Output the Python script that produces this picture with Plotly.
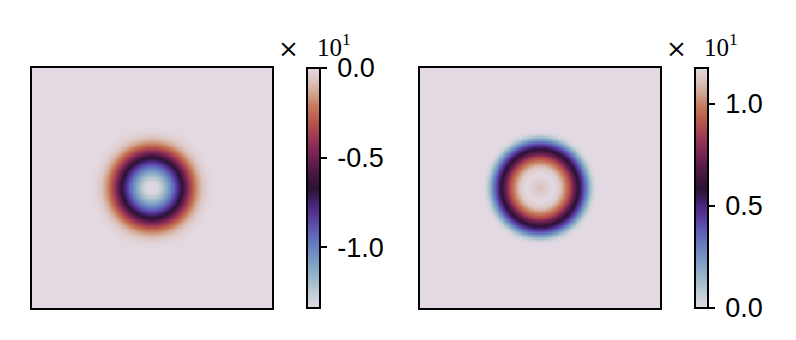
import numpy as np
import plotly.graph_objects as go

# radial profiles (radius in axis units, axis spans -5..5)
left_r = [0.0, 0.25, 0.417, 0.625, 0.833, 1.042, 1.25, 1.417, 1.583, 1.75, 1.917, 2.083, 2.25, 2.417, 2.667, 5.0, 8.0]
left_v = [-13.4, -13.1, -12.4, -11.2, -9.8, -8.2, -6.7, -5.2, -3.8, -2.5, -1.5, -0.8, -0.35, -0.1, 0.0, 0.0, 0.0]
right_r = [0.0, 0.333, 0.583, 0.833, 1.083, 1.25, 1.417, 1.583, 1.708, 1.833, 1.958, 2.083, 2.167, 2.25, 2.375, 5.0, 8.0]
right_v = [11.0, 11.5, 11.74, 11.2, 9.9, 8.8, 7.3, 6.0, 5.1, 4.0, 2.7, 1.5, 0.8, 0.3, 0.0, 0.0, 0.0]

left_ticks = [-10, -5, 0]
left_ticktext = ["-1.0", "-0.5", "0.0"]
right_ticks = [0, 5, 10]
right_ticktext = ["0.0", "0.5", "1.0"]
left_range = [-13.4, 0.0]
right_range = [0.0, 11.74]

N = 200
coords = np.linspace(-5, 5, N + 1)
coords = 0.5 * (coords[:-1] + coords[1:])
X, Y = np.meshgrid(coords, coords)
R = np.sqrt(X**2 + Y**2)
Z_left = np.interp(R, left_r, left_v)
Z_right = np.interp(R, right_r, right_v)

twilight = [
    [0.00, "#e2d9e2"], [0.05, "#c6d0d8"], [0.10, "#a8c0cb"], [0.16, "#8aaac6"],
    [0.22, "#7290c2"], [0.28, "#6474bd"], [0.33, "#5e58b2"], [0.38, "#58399a"],
    [0.43, "#48267a"], [0.46, "#3a1a58"], [0.50, "#2c1232"], [0.54, "#3e163e"],
    [0.60, "#5e1c4c"], [0.66, "#822855"], [0.72, "#a23c52"], [0.78, "#b8584b"],
    [0.84, "#c67a5c"], [0.90, "#d3a893"], [0.95, "#dcc6c2"], [1.00, "#e2d9e2"],
]

W, H = 796, 340
def px_x(v): return v / W
def px_y(v): return 1 - v / H

tickfont = dict(family="Liberation Sans", size=27, color="black")
PAD = "\u2009"

def cbar(x0, tv, tt):
    return dict(
        x=px_x(x0), xanchor="left", xpad=0, ypad=0,
        y=px_y(308), yanchor="bottom", len=240 / H, lenmode="fraction",
        thickness=13, thicknessmode="pixels",
        outlinewidth=2, outlinecolor="black",
        ticks="outside", ticklen=6, tickwidth=2, tickcolor="black",
        tickvals=tv, ticktext=[PAD + t for t in tt], tickfont=tickfont,
    )

fig = go.Figure()
fig.add_trace(go.Heatmap(x=coords, y=coords, z=Z_left, colorscale=twilight,
                         zmin=left_range[0], zmax=left_range[1], zsmooth=False,
                         colorbar=cbar(307, left_ticks, left_ticktext),
                         xaxis="x", yaxis="y"))
fig.add_trace(go.Heatmap(x=coords, y=coords, z=Z_right, colorscale=twilight,
                         zmin=right_range[0], zmax=right_range[1], zsmooth=False,
                         colorbar=cbar(695, right_ticks, right_ticktext),
                         xaxis="x2", yaxis="y2"))

ax = dict(showline=True, mirror=True, linecolor="black", linewidth=2,
          showticklabels=False, ticks="", showgrid=False, zeroline=False,
          range=[-5, 5])
fig.update_layout(
    width=W, height=H, margin=dict(l=0, r=0, t=0, b=0),
    paper_bgcolor="white", plot_bgcolor="white", showlegend=False,
    xaxis=dict(ax, domain=[px_x(32), px_x(272)], anchor="y"),
    yaxis=dict(ax, domain=[px_y(308), px_y(68)], anchor="x"),
    xaxis2=dict(ax, domain=[px_x(420), px_x(660)], anchor="y2"),
    yaxis2=dict(ax, domain=[px_y(308), px_y(68)], anchor="x2"),
)
for xt, x10 in ((288, 316), (676, 703)):
    fig.add_annotation(text="×", xref="paper", yref="paper",
                       x=px_x(xt), y=px_y(49), xanchor="center", yanchor="middle",
                       showarrow=False,
                       font=dict(family="DejaVu Serif", size=25, color="black"))
    fig.add_annotation(text="10<sup>1</sup>", xref="paper", yref="paper",
                       x=px_x(x10 - 1), y=px_y(45), xanchor="left", yanchor="middle",
                       showarrow=False,
                       font=dict(family="Liberation Serif", size=25, color="black"))

fig.write_html("out.html")
